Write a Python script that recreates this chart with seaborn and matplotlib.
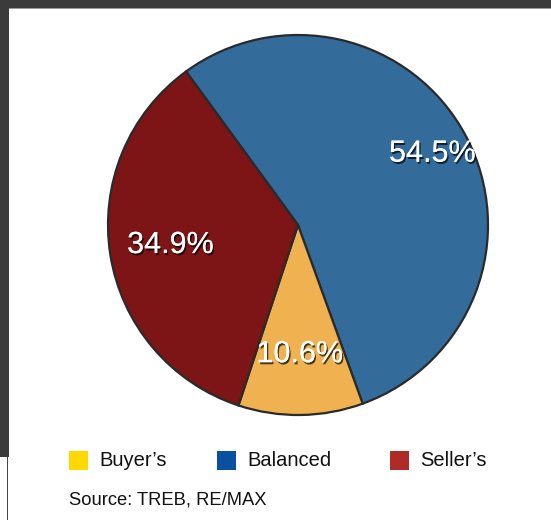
import matplotlib
matplotlib.use("Agg")
import matplotlib.pyplot as plt
import matplotlib.patheffects as pe
from matplotlib.patches import Rectangle
import numpy as np
import seaborn as sns

# ---- data ----
categories = ["Balanced", "Buyer's", "Seller's"]
values = [54.5, 10.6, 34.9]
pct_labels = ["54.5%", "10.6%", "34.9%"]
legend_order = ["Buyer\u2019s", "Balanced", "Seller\u2019s"]

# ---- style ----
sns.set_theme(style="white")
plt.rcParams['font.family'] = ['Liberation Sans', 'DejaVu Sans']

slice_colors = sns.color_palette(["#336B9B", "#F0B250", "#7D1516"])
legend_colors = ["#FFD800", "#0A50A0", "#B02A28"]

W, H = 551, 520
fig = plt.figure(figsize=(W / 100, H / 100), dpi=100)
fig.patch.set_facecolor("white")

# dark frame pieces
frame = "#3B3B3B"
fig.add_artist(Rectangle((0, (H - 9) / H), 1, 9 / H, transform=fig.transFigure,
                         facecolor=frame, edgecolor="none", zorder=0))
fig.add_artist(Rectangle((0, (H - 9) / H), 1, 1.2 / H, transform=fig.transFigure,
                         facecolor="#9A9A9A", edgecolor="none", zorder=0))
fig.add_artist(Rectangle((0, 63 / H), 9 / W, (H - 63) / H, transform=fig.transFigure,
                         facecolor=frame, edgecolor="none", zorder=0))
fig.add_artist(Rectangle((6.5 / W, 0), 1.5 / W, 63 / H, transform=fig.transFigure,
                         facecolor="#444444", edgecolor="none", zorder=0))

# pie axes: center (298, 225) px from top, radius 190 px
cx, cy, r = 298, H - 225, 190
ax = fig.add_axes([(cx - r) / W, (cy - r) / H, 2 * r / W, 2 * r / H])
wedges, _ = ax.pie(values, colors=slice_colors, startangle=126.1, counterclock=False,
                   radius=1.0,
                   wedgeprops=dict(edgecolor="#2a2a2a", linewidth=1.6))
ax.set_xlim(-1.0, 1.0)
ax.set_ylim(-1.0, 1.0)
ax.set_aspect("equal")
ax.axis("off")

label_dist = [0.80, 0.68, 0.68]
shadow = [pe.withSimplePatchShadow(offset=(1.0, -1.5), shadow_rgbFace="black", alpha=0.7),
          pe.Normal()]
for w, lab, d in zip(wedges, pct_labels, label_dist):
    ang = np.deg2rad((w.theta1 + w.theta2) / 2)
    ax.text(d * np.cos(ang), d * np.sin(ang), lab, ha="center", va="center",
            fontsize=22, color="white", path_effects=shadow)

# legend
sq_x = [69, 217, 390]
for x, lab, col in zip(sq_x, legend_order, legend_colors):
    fig.add_artist(Rectangle((x / W, (H - 470) / H), 19 / W, 19 / H, transform=fig.transFigure,
                             facecolor=col, edgecolor="none"))
    fig.text((x + 30) / W, (H - 460.5) / H, lab, ha="left", va="center",
             fontsize=14.5, color="#111111")

fig.text(69 / W, (H - 500) / H, "Source: TREB, RE/MAX", ha="left", va="center",
         fontsize=13.2, color="#111111")

fig.savefig("out.png", dpi=100, facecolor=fig.get_facecolor())
